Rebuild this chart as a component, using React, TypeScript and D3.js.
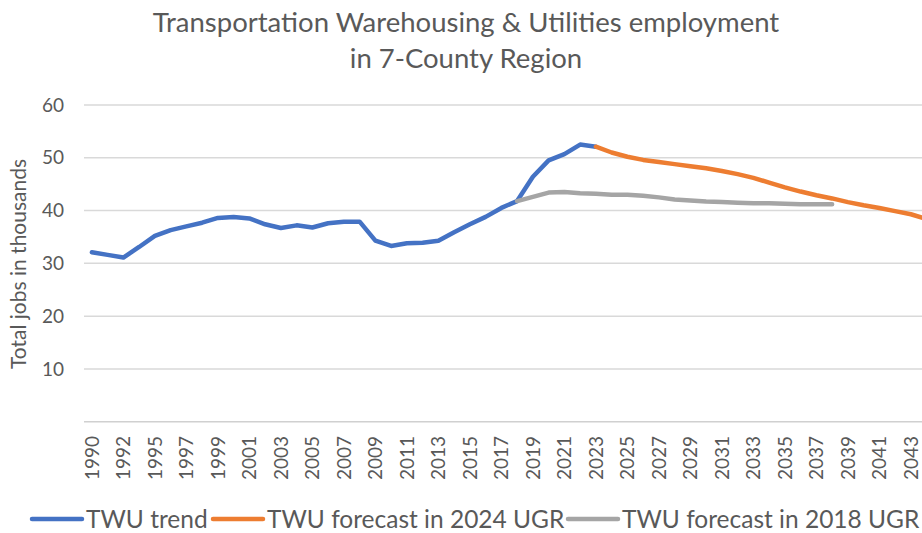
import { useEffect, useRef } from "react";
import * as d3 from "d3";

// categories (the source skips 1993)
const years = [
  "1990", "1991", "1992", "1994", "1995", "1996", "1997", "1998", "1999", "2000",
  "2001", "2002", "2003", "2004", "2005", "2006", "2007", "2008", "2009", "2010",
  "2011", "2012", "2013", "2014", "2015", "2016", "2017", "2018", "2019", "2020",
  "2021", "2022", "2023", "2024", "2025", "2026", "2027", "2028", "2029", "2030",
  "2031", "2032", "2033", "2034", "2035", "2036", "2037", "2038", "2039", "2040",
  "2041", "2042", "2043", "2044",
];

// TWU trend, 1990-2023
const trendStart = "1990";
const trend = [
  32.1, 31.6, 31.1, 33.1, 35.2, 36.3, 37.0, 37.7, 38.6, 38.8, 38.5, 37.4, 36.7,
  37.2, 36.8, 37.6, 37.9, 37.9, 34.3, 33.3, 33.8, 33.9, 34.3, 35.9, 37.4, 38.8,
  40.5, 41.8, 46.4, 49.5, 50.7, 52.5, 52.1,
];

// TWU forecast in 2024 UGR, 2023-2044
const ugr2024Start = "2023";
const ugr2024 = [
  52.1, 51.0, 50.2, 49.6, 49.2, 48.8, 48.4, 48.0, 47.5, 46.9, 46.2, 45.3, 44.4,
  43.6, 42.9, 42.3, 41.6, 41.0, 40.5, 39.9, 39.3, 38.4,
];

// TWU forecast in 2018 UGR, 2018-2038
const ugr2018Start = "2018";
const ugr2018 = [
  41.8, 42.6, 43.4, 43.5, 43.3, 43.2, 43.0, 43.0, 42.8, 42.5, 42.1, 41.9, 41.7,
  41.6, 41.5, 41.4, 41.4, 41.3, 41.2, 41.2, 41.2,
];

const yTicks = [10, 20, 30, 40, 50, 60];

const titleLines = ["Transportation Warehousing & Utilities employment", "in 7-County Region"];
const seriesNames = ["TWU trend", "TWU forecast in 2024 UGR", "TWU forecast in 2018 UGR"];
const seriesColors = ["#4472C4", "#ED7D31", "#A5A5A5"];

const FONT = "Lato, 'Open Sans', sans-serif";
const TEXT = "#595959";

export default function App() {
  const ref = useRef<SVGSVGElement>(null);

  useEffect(() => {
    const svg = d3.select(ref.current);
    const width = 922;
    const plot = { left: 84, right: 934.5, top: 105, bottom: 421.7 };

    svg.selectAll("*").remove();

    const x = d3.scalePoint().domain(years).range([plot.left, plot.right]).padding(0.5);
    const y = d3.scaleLinear().domain([0, 60]).range([plot.bottom, plot.top]);

    // title
    svg
      .append("text")
      .attr("font-family", FONT)
      .attr("font-size", 27.5)
      .attr("fill", TEXT)
      .attr("text-anchor", "middle")
      .selectAll("tspan")
      .data(titleLines)
      .join("tspan")
      .attr("x", 466)
      .attr("y", (_, i) => 32 + i * 36)
      .text((d) => d);

    // gridlines
    svg
      .append("g")
      .selectAll("line")
      .data(yTicks)
      .join("line")
      .attr("x1", plot.left)
      .attr("x2", width)
      .attr("y1", (d) => y(d))
      .attr("y2", (d) => y(d))
      .attr("stroke", "#D9D9D9")
      .attr("stroke-width", 1.5);

    svg
      .append("line")
      .attr("x1", plot.left)
      .attr("x2", width)
      .attr("y1", y(0))
      .attr("y2", y(0))
      .attr("stroke", "#D0D0D0")
      .attr("stroke-width", 1.5);

    // y labels
    svg
      .append("g")
      .selectAll("text")
      .data(yTicks)
      .join("text")
      .attr("x", 64)
      .attr("y", (d) => y(d))
      .attr("dy", "0.35em")
      .attr("text-anchor", "end")
      .attr("font-family", FONT)
      .attr("font-size", 19)
      .attr("fill", TEXT)
      .text((d) => d);

    svg
      .append("text")
      .attr("transform", "translate(26,264) rotate(-90)")
      .attr("text-anchor", "middle")
      .attr("font-family", FONT)
      .attr("font-size", 21)
      .attr("fill", TEXT)
      .text("Total jobs in thousands");

    // x labels, every other category
    svg
      .append("g")
      .selectAll("text")
      .data(years.filter((_, i) => i % 2 === 0))
      .join("text")
      .attr("transform", (d) => `translate(${x(d)},436) rotate(-90)`)
      .attr("dy", "0.35em")
      .attr("text-anchor", "end")
      .attr("font-family", FONT)
      .attr("font-size", 19)
      .attr("fill", TEXT)
      .text((d) => d);

    // lines
    const series = [
      { start: trendStart, values: trend },
      { start: ugr2024Start, values: ugr2024 },
      { start: ugr2018Start, values: ugr2018 },
    ];

    series.forEach((s, k) => {
      const offset = years.indexOf(s.start);
      const line = d3
        .line<number>()
        .x((_, i) => x(years[offset + i]) as number)
        .y((d) => y(d));
      svg
        .append("path")
        .attr("d", line(s.values))
        .attr("fill", "none")
        .attr("stroke", seriesColors[k])
        .attr("stroke-width", 4.5)
        .attr("stroke-linejoin", "round")
        .attr("stroke-linecap", "round");
    });

    // legend
    const legendX = [32, 213, 568];
    const lg = svg
      .append("g")
      .selectAll("g")
      .data(seriesNames)
      .join("g")
      .attr("transform", (_, i) => `translate(${legendX[i]},519)`);

    lg.append("line")
      .attr("x1", 0)
      .attr("x2", 50)
      .attr("stroke", (_, i) => seriesColors[i])
      .attr("stroke-width", 4.5)
      .attr("stroke-linecap", "round");

    lg.append("text")
      .attr("x", 54)
      .attr("dy", "0.35em")
      .attr("font-family", FONT)
      .attr("font-size", 24.5)
      .attr("fill", TEXT)
      .text((d) => d);
  }, []);

  return (
    <svg
      ref={ref}
      width={922}
      height={533}
      style={{ position: "absolute", left: 0, top: 0, background: "#fff" }}
      role="img"
      aria-label="Transportation Warehousing & Utilities employment in 7-County Region"
    />
  );
}
